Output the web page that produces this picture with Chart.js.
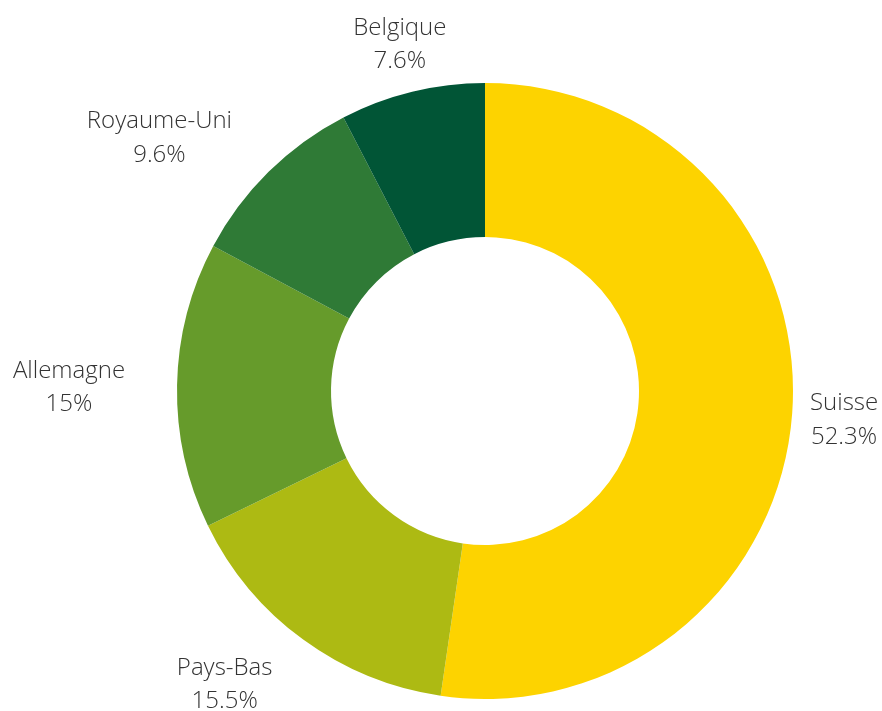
<!DOCTYPE html>
<html>
<head>
<meta charset="utf-8">
<script src="https://cdn.jsdelivr.net/npm/chart.js@4"></script>
<style>
  html, body { margin: 0; padding: 0; background: #fff; }
  #wrap { width: 882px; height: 711px; }
</style>
</head>
<body>
<div id="wrap"><canvas id="myChart" width="882" height="711"></canvas></div>
<script>
const countries = ['Suisse', 'Pays-Bas', 'Allemagne', 'Royaume-Uni', 'Belgique'];
const shares = [52.3, 15.5, 15, 9.6, 7.6];
const colours = ['#FDD300', '#ADBA13', '#669B2B', '#2F7A36', '#015536'];

// labels outside the ring: name on one line, share centred below it
const outerLabels = {
    id: 'outerLabels',
    afterDraw(chart) {
        const ctx = chart.ctx;
        const meta = chart.getDatasetMeta(0);
        ctx.save();
        ctx.font = '300 24px "Open Sans"';
        ctx.fillStyle = '#333333';
        ctx.textAlign = 'center';
        ctx.textBaseline = 'middle';
        meta.data.forEach((arc, i) => {
            const mid = (arc.startAngle + arc.endAngle) / 2;
            const dx = Math.cos(mid), dy = Math.sin(mid);
            const dist = arc.outerRadius + 52;
            const lines = [countries[i], shares[i] + '%'];
            const w = Math.max(...lines.map(l => ctx.measureText(l).width));
            let x = arc.x + dx * dist;
            const y = arc.y + dy * dist;
            // left-side blocks hang off the anchor, the rest sit centred on it
            if (dx < -0.5) x -= w / 2;
            ctx.fillText(lines[0], x, y - 13.5);
            ctx.fillText(lines[1], x, y + 20);
        });
        ctx.restore();
    }
};

new Chart(document.getElementById('myChart'), {
    type: 'doughnut',
    data: {
        labels: countries,
        datasets: [{
            data: shares,
            backgroundColor: colours,
            borderWidth: 0
        }]
    },
    options: {
        responsive: false,
        animation: false,
        cutout: '50%',
        layout: { padding: { top: 83, bottom: 12, left: 98, right: 10 } },
        plugins: {
            legend: { display: false },
            tooltip: { enabled: false }
        }
    },
    plugins: [outerLabels]
});
</script>
</body>
</html>
